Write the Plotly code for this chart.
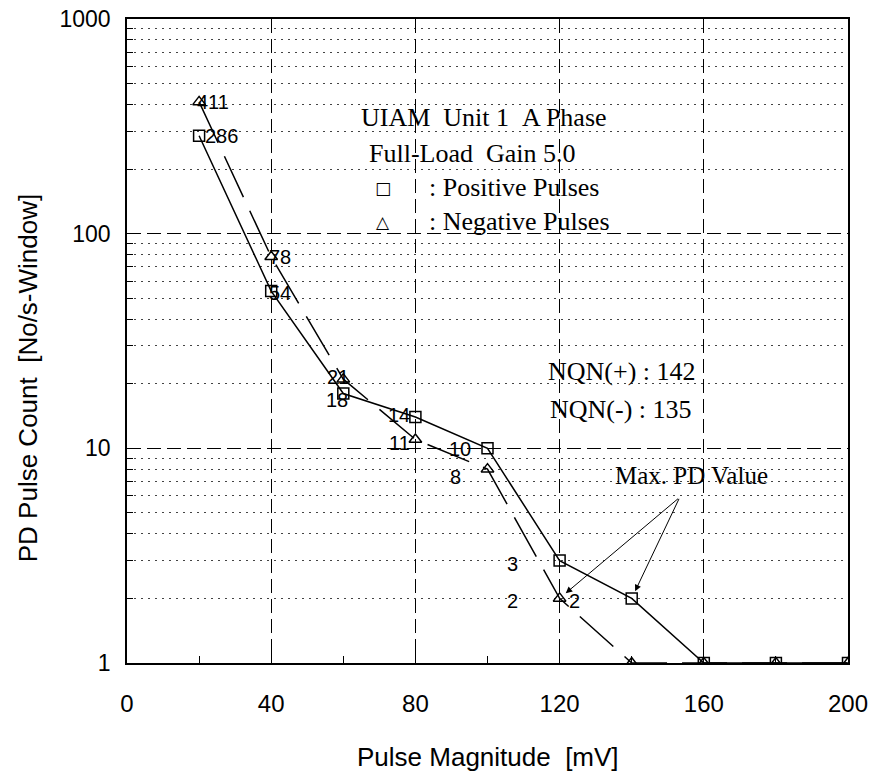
import math
import plotly.graph_objects as go

# ---- data ----
x_mv = [20, 40, 60, 80, 100, 120, 140, 160, 180, 200]
pos_counts = [286, 54, 18, 14, 10, 3, 2, 1, 1, 1]
neg_counts = [411, 78, 21, 11, 8, 2, 1, 1, 1, 1]

x_ticks = [0, 40, 80, 120, 160, 200]
y_ticks = [1, 10, 100, 1000]

# point labels: (series, index) -> the label text is the value itself
label_series = ["neg", "pos", "neg", "pos", "neg", "pos", "pos", "neg", "pos", "neg", "pos", "neg", "neg"]
label_index = [0, 0, 1, 1, 2, 2, 3, 3, 4, 4, 5, 5, 5]

# ---- styles for the point labels (anchor, xshift, yshift) ----
label_style = [
    ("left", -4, 0), ("left", 4, 0), ("left", -4, 0), ("left", -4, -2),
    ("center", -5, 2), ("center", -6, -6), ("right", -3, 2), ("right", -3, -4),
    ("right", -15, -1), ("right", -25, -8), ("right", -40, -3), ("right", -40, -3),
    ("left", 7, -3),
]

SANS = "Liberation Sans, Arial, sans-serif"
SERIF = "Liberation Serif, Times New Roman, serif"

fig = go.Figure()
fig.add_trace(go.Scatter(
    x=x_mv, y=pos_counts, mode="lines+markers", name="Positive Pulses",
    line=dict(color="black", width=1.5),
    marker=dict(symbol="square-open", size=11, color="black", line=dict(width=1.5)),
    showlegend=False,
))
fig.add_trace(go.Scatter(
    x=x_mv, y=neg_counts, mode="lines+markers", name="Negative Pulses",
    line=dict(color="black", width=1.5, dash="45px,15px"),
    marker=dict(symbol="triangle-up-open", size=11, color="black", line=dict(width=1.5)),
    showlegend=False,
))

series = {"pos": pos_counts, "neg": neg_counts}
for s, i, (anc, xs, ys) in zip(label_series, label_index, label_style):
    v = series[s][i]
    fig.add_annotation(x=x_mv[i], y=math.log10(v), xref="x", yref="y", text=str(v),
                       showarrow=False, xanchor=anc, yanchor="middle",
                       xshift=xs, yshift=ys,
                       font=dict(family=SANS, size=20, color="black"))

# arrows "Max. PD Value"
for s, i, ax in [("neg", 5, 120), ("pos", 6, 48)]:
    v = series[s][i]
    fig.add_annotation(x=x_mv[i], y=math.log10(v), xref="x", yref="y", text="",
                       showarrow=True, arrowhead=2, arrowsize=1.3, arrowwidth=1,
                       arrowcolor="black", ax=ax, ay=-101, standoff=8)

def ptext(txt, x, y, size=26, family=SERIF, anchor="left"):
    fig.add_annotation(x=x, y=y, xref="paper", yref="paper", text=txt,
                       showarrow=False, xanchor=anchor, yanchor="middle",
                       font=dict(family=family, size=size, color="black"))

NB = "\u00a0"
ptext("UIAM " + NB + "Unit 1 " + NB + "A Phase", 0.3218, 0.8463)
ptext("Full-Load " + NB + "Gain 5.0", 0.3329, 0.7919)
ptext("\u25a1", 0.355, 0.7376, size=17, family="DejaVu Sans", anchor="center")
ptext("\u25b3", 0.355, 0.6848, size=17, family="DejaVu Sans", anchor="center")
ptext(": Positive Pulses", 0.4161, 0.7376)
ptext(": Negative Pulses", 0.4161, 0.6848)
ptext("NQN(+) : 142", 0.5811, 0.4519)
ptext("NQN(-) : 135", 0.5839, 0.3944)
ptext("Max. PD Value", 0.6741, 0.2919, size=25)

# axis titles
ptext("Pulse Magnitude " + NB + "[mV]", 0.5, -0.146, family=SANS, anchor="center")
fig.add_annotation(x=-0.137, y=0.4425, xref="paper", yref="paper",
                   text="PD Pulse Count " + NB + "[No/s-Window]", textangle=-90,
                   showarrow=False, xanchor="center", yanchor="middle",
                   font=dict(family=SANS, size=26, color="black"))

fig.update_xaxes(
    range=[0, 200], tickmode="array", tickvals=x_ticks, ticktext=[str(t) for t in x_ticks],
    ticks="inside", ticklen=14, tickwidth=1.2, tickcolor="black",
    showline=True, linecolor="black", linewidth=1.5, mirror=True,
    showgrid=True, gridcolor="black", gridwidth=1, griddash="14px,6px",
    zeroline=False, ticklabelstandoff=18, automargin=False, ticklabeloverflow="allow",
    tickfont=dict(family=SANS, size=24, color="black"),
    minor=dict(tickmode="array", tickvals=[20, 60, 100, 140, 180], ticks="inside",
               ticklen=7, tickcolor="black", showgrid=False),
)
fig.update_yaxes(
    type="log", range=[0, 3], dtick=1, exponentformat="none",
    ticks="inside", ticklen=14, tickwidth=1.2, tickcolor="black",
    showline=True, linecolor="black", linewidth=1.5, mirror=True,
    showgrid=True, gridcolor="black", gridwidth=1, griddash="14px,6px",
    zeroline=False, ticklabelstandoff=10, automargin=False, ticklabeloverflow="allow",
    tickfont=dict(family=SANS, size=23, color="black"),
    minor=dict(dtick="D1", ticks="inside", ticklen=6, tickcolor="black",
               showgrid=True, gridcolor="#444", gridwidth=1, griddash="2px,5px"),
)

fig.update_layout(
    width=873, height=773,
    margin=dict(l=127, r=25, t=19, b=110, autoexpand=False),
    plot_bgcolor="white", paper_bgcolor="white",
    showlegend=False,
)

fig.write_html("out.html", config={"displayModeBar": False},
               post_script="document.body.style.margin='0';document.body.style.overflow='hidden';")
